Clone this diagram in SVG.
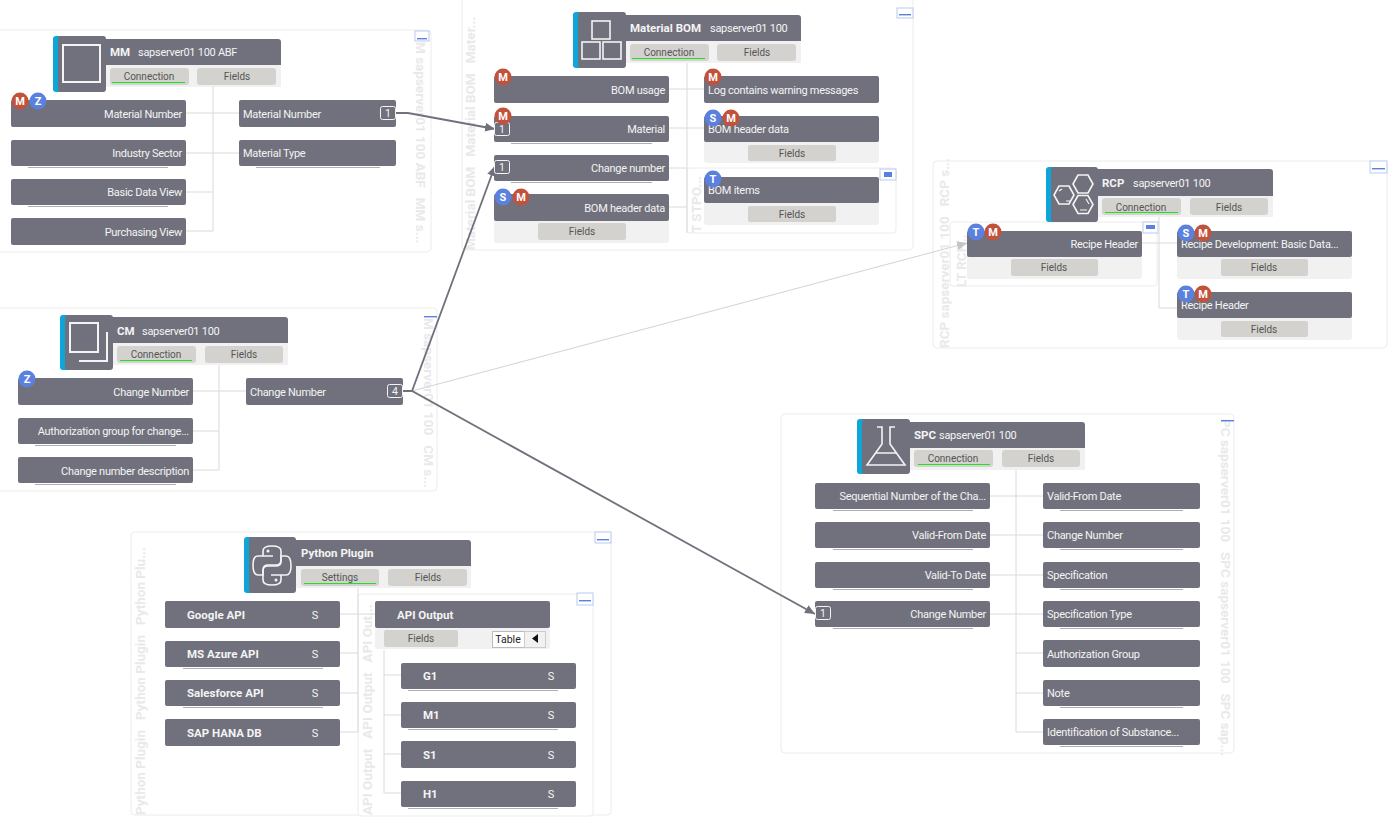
<svg xmlns="http://www.w3.org/2000/svg" width="1396" height="823" viewBox="0 0 1396 823">
<style>
text{font-family:Roboto,"Liberation Sans",sans-serif;font-size:11px;letter-spacing:-.28px}
.p{fill:#fff;stroke:#ececec;stroke-width:1}
.n{fill:#71717d}
.tool{fill:#f1f1f1}
.btn{fill:#d3d2ce}
.t{fill:#f4f4f4}
.e{fill:#f4f4f4;text-anchor:end}
.b{fill:#f4f4f4;font-weight:bold;font-size:11.5px;letter-spacing:0}
.bt{fill:#555;text-anchor:middle;font-size:10px;letter-spacing:0}
.s{fill:#f4f4f4;text-anchor:middle;letter-spacing:0}
.g{fill:#e9e9e9;font-weight:bold;font-size:13.5px;white-space:pre;letter-spacing:0}
.l{fill:none;stroke:#dadada;stroke-width:1}
.u{stroke:#8b8b96;stroke-width:.7;fill:none}
.bar{fill:#0ea5d8}
.on{stroke:#22e022;stroke-width:1.2}
.ic{fill:none;stroke:#f4f4f4;stroke-width:1.6}
.c{fill:none;stroke:#71717d;stroke-width:1.8}
.cf{fill:none;stroke:#d2d2d2;stroke-width:1}
.M{fill:#c2523c}.Z{fill:#5b80dd}
.bl{fill:#fff;font-weight:bold;font-size:11px;text-anchor:middle;letter-spacing:0}
.num{fill:none;stroke:#f4f4f4;stroke-width:1}
.ct{fill:#f4f4f4;text-anchor:middle;font-size:10.5px;letter-spacing:0}
.col{fill:#fff;stroke:#b9c9f2;stroke-width:1}
.cb{fill:#5b80dd}
</style>
<defs>
<marker id="arr" markerWidth="11" markerHeight="9" refX="10" refY="4.5" orient="auto" markerUnits="userSpaceOnUse"><path d="M0 0L10 4.5L0 9Z" fill="#71717d"/></marker>
<marker id="arrf" markerWidth="11" markerHeight="9" refX="10" refY="4.5" orient="auto" markerUnits="userSpaceOnUse"><path d="M0 0L10 4.5L0 9Z" fill="#c4c4c4"/></marker>
</defs>

<g id="panels">
<rect class="p" x="-6" y="30" width="437" height="222" rx="4"/>
<rect class="p" x="462" y="-10" width="451" height="260" rx="4"/>
<rect class="p" x="933" y="161" width="454" height="187" rx="4"/>
<rect class="p" x="-6" y="308" width="443" height="183" rx="4"/>
<rect class="p" x="131" y="532" width="480" height="283" rx="4"/>
<rect class="p" x="781" y="414" width="453" height="339" rx="4"/>
<rect class="p" x="687" y="168" width="209" height="65" rx="3"/>
<rect class="p" x="950" y="222" width="207" height="64" rx="3"/>
<rect class="p" x="358" y="594" width="235" height="222" rx="3"/>
<text class="g" transform="translate(416,42) rotate(90)">M sapserver01 100 ABF   MM s...</text>
<text class="g" transform="translate(475,250) rotate(-90)">Material BOM   Material BOM   Mater...</text>
<text class="g" transform="translate(701,233) rotate(-90)">T STPO...</text>
<text class="g" transform="translate(949,348) rotate(-90)">RCP sapserver01 100   RCP s...</text>
<text class="g" transform="translate(966,287) rotate(-90)">LT RCP...</text>
<text class="g" transform="translate(424,318) rotate(90)">M sapserver01 100   CM s...</text>
<text class="g" transform="translate(145,815) rotate(-90)">Python Plugin   Python Plugin   Python Plu...</text>
<text class="g" transform="translate(372,815) rotate(-90)">API Output   API Output   API Out...</text>
<text class="g" transform="translate(1221,419) rotate(90)">PC sapserver01 100   SPC sapserver01 100   SPC sap...</text>
<rect class="col" x="415" y="31" width="14" height="10"/><rect class="cb" x="417" y="38" width="10" height="1.4"/>
<rect class="col" x="897" y="8" width="16" height="10"/><rect class="cb" x="899" y="14" width="12" height="1.4"/>
<rect class="col" x="880" y="169" width="16" height="11"/><rect class="cb" x="884" y="172" width="8" height="5"/>
<rect class="col" x="1370" y="161" width="17" height="12"/><rect class="cb" x="1372" y="168" width="13" height="1.4"/>
<rect class="col" x="1143" y="222" width="15" height="11"/><rect class="cb" x="1146" y="225" width="9" height="4"/>
<rect class="cb" x="424" y="316" width="13" height="1.4"/>
<rect class="col" x="595" y="532" width="16" height="11"/><rect class="cb" x="597" y="539" width="12" height="1.4"/>
<rect class="col" x="577" y="593" width="16" height="12"/><rect class="cb" x="579" y="600" width="12" height="1.4"/>
<rect class="cb" x="1221" y="420" width="13" height="1.4"/>
</g>

<g id="connectors">
<path class="l" d="M213 87V231M186 113H239M186 153H239M186 192H213M186 231H213"/>
<path class="l" d="M687 63V233M669 89H704M669 128H704M669 168H687M669 207H687"/>
<path class="l" d="M1159 217V308M1142 243H1177M1159 308H1177"/>
<path class="l" d="M219 365V470M193 391H246M193 431H219M193 470H219"/>
<path class="l" d="M358 588V732M340 614H375M340 653H358M340 693H358M340 732H358"/>
<path class="l" d="M384 650V793M384 675H401M384 715H401M384 754H401M384 793H401"/>
<path class="l" d="M1016 470V732M990 496H1043M990 535H1043M990 575H1043M990 614H1043M1016 653H1043M1016 693H1043M1016 732H1043"/>
<path class="cf" d="M403 391H412L967 243" marker-end="url(#arrf)"/>
<path class="c" d="M396 113H408L495 129" marker-end="url(#arr)"/>
<path class="c" d="M403 391H412L495 166" marker-end="url(#arr)"/>
<path class="c" d="M403 391H412L815 614" marker-end="url(#arr)"/>
</g>

<g id="mm">
<rect class="bar" x="53" y="36" width="10" height="56" rx="3"/><rect class="n" x="58" y="36" width="48" height="56" rx="3"/>
<rect class="ic" x="63" y="45" width="37" height="37" style="stroke-width:2"/>
<path class="n" d="M104 39H278a3 3 0 0 1 3 3V65H104Z"/><rect class="tool" x="106" y="65" width="175" height="22"/>
<rect class="btn" x="110" y="68" width="79" height="17" rx="3"/><rect class="btn" x="197" y="68" width="79" height="17" rx="3"/>
<path class="on" d="M112 82.500H185"/>
<text class="b" x="110" y="56">MM</text><text class="t" x="138" y="56">sapserver01 100 ABF</text>
<text class="bt" x="149" y="80">Connection</text><text class="bt" x="237" y="80">Fields</text>
</g>
<g id="mm-material-number-l"><rect class="n" x="11" y="100" width="175" height="27" rx="2"/><text class="e" x="182" y="118">Material Number</text>
<circle class="M" cx="20" cy="101" r="8.500"/><text class="bl" x="20" y="105">M</text><circle class="Z" cx="38" cy="101" r="8.500"/><text class="bl" x="38" y="105">Z</text></g>
<g id="mm-industry"><path class="u" d="M28 167.500H168"/><rect class="n" x="11" y="140" width="175" height="26" rx="2"/><text class="e" x="182" y="157">Industry Sector</text></g>
<g id="mm-basic"><path class="u" d="M28 206.500H168"/><rect class="n" x="11" y="179" width="175" height="26" rx="2"/><text class="e" x="182" y="196">Basic Data View</text></g>
<g id="mm-purchasing"><rect class="n" x="11" y="218" width="175" height="27" rx="2"/><text class="e" x="182" y="236">Purchasing View</text></g>
<g id="mm-material-number-r"><rect class="n" x="239" y="100" width="157" height="27" rx="2"/><text class="t" x="243" y="118">Material Number</text><rect class="num" x="380.500" y="106.500" width="15" height="13" rx="2"/><text class="ct" x="388" y="117">1</text></g>
<g id="mm-material-type"><path class="u" d="M256 167.500H380"/><rect class="n" x="239" y="140" width="157" height="26" rx="2"/><text class="t" x="243" y="157">Material Type</text></g>

<g id="bom">
<rect class="bar" x="573" y="12" width="10" height="56" rx="3"/><rect class="n" x="578" y="12" width="48" height="56" rx="3"/>
<rect class="ic" x="592" y="21" width="18" height="18"/><rect class="ic" x="582" y="42" width="18" height="17"/><rect class="ic" x="603" y="42" width="18" height="17"/>
<path class="n" d="M624 15H798a3 3 0 0 1 3 3V41H624Z"/><rect class="tool" x="626" y="41" width="175" height="22"/>
<rect class="btn" x="630" y="44" width="79" height="17" rx="3"/><rect class="btn" x="717" y="44" width="79" height="17" rx="3"/>
<path class="on" d="M632 58.500H705"/>
<text class="b" x="630" y="32">Material BOM</text><text class="t" x="710" y="32">sapserver01 100</text>
<text class="bt" x="669" y="56">Connection</text><text class="bt" x="757" y="56">Fields</text>
</g>
<g id="bom-usage"><rect class="n" x="494" y="76" width="175" height="27" rx="2"/><text class="e" x="665" y="94">BOM usage</text><circle class="M" cx="503" cy="77" r="8.500"/><text class="bl" x="503" y="81">M</text></g>
<g id="bom-material"><path class="u" d="M511 143.500H652"/><rect class="n" x="494" y="116" width="175" height="26" rx="2"/><text class="e" x="665" y="133">Material</text><rect class="num" x="494.500" y="122.500" width="15" height="13" rx="2"/><text class="ct" x="502" y="133">1</text><circle class="M" cx="503" cy="116" r="8.500"/><text class="bl" x="503" y="120">M</text></g>
<g id="bom-change"><path class="u" d="M511 182.500H652"/><rect class="n" x="494" y="155" width="175" height="26" rx="2"/><text class="e" x="665" y="172">Change number</text><rect class="num" x="494.500" y="160.500" width="15" height="13" rx="2"/><text class="ct" x="502" y="171">1</text></g>
<g id="bom-header-l"><rect class="tool" x="494" y="200" width="175" height="43" rx="3"/><rect class="n" x="494" y="194" width="175" height="27" rx="2"/><rect class="btn" x="538" y="223" width="88" height="17" rx="2"/><text class="e" x="665" y="212">BOM header data</text><text class="bt" x="582" y="235">Fields</text><circle class="Z" cx="503" cy="197" r="8.500"/><text class="bl" x="503" y="201">S</text><circle class="M" cx="521" cy="197" r="8.500"/><text class="bl" x="521" y="201">M</text></g>
<g id="bom-log"><rect class="n" x="704" y="76" width="175" height="27" rx="2"/><text class="t" x="708" y="94">Log contains warning messages</text><circle class="M" cx="713" cy="77" r="8.500"/><text class="bl" x="713" y="81">M</text></g>
<g id="bom-header-r"><rect class="tool" x="704" y="122" width="175" height="41" rx="3"/><rect class="n" x="704" y="116" width="175" height="26" rx="2"/><rect class="btn" x="748" y="145" width="88" height="16" rx="2"/><text class="t" x="708" y="133">BOM header data</text><text class="bt" x="792" y="157">Fields</text><circle class="Z" cx="713" cy="118" r="8.500"/><text class="bl" x="713" y="122">S</text><circle class="M" cx="731" cy="118" r="8.500"/><text class="bl" x="731" y="122">M</text></g>
<g id="bom-items"><rect class="tool" x="704" y="183" width="175" height="42" rx="3"/><rect class="n" x="704" y="177" width="175" height="26" rx="2"/><rect class="btn" x="748" y="206" width="88" height="16" rx="2"/><text class="t" x="708" y="194">BOM items</text><text class="bt" x="792" y="218">Fields</text><circle class="Z" cx="713" cy="179" r="8.500"/><text class="bl" x="713" y="183">T</text></g>

<g id="rcp">
<rect class="bar" x="1046" y="167" width="10" height="55" rx="3"/><rect class="n" x="1051" y="167" width="47" height="55" rx="3"/>
<path class="ic" d="M1073 184L1078 175H1088L1093 184L1088 193H1078Z"/>
<path class="ic" d="M1054 195L1059 186H1069L1074 195L1069 204H1059Z"/>
<path class="ic" d="M1073 204.500L1078 195.500H1088L1093 204.500L1088 213.500H1078Z"/>
<path class="ic" d="M1059 191L1062 189M1066 201H1070M1080 210H1087M1089 204L1086 199" style="stroke-width:1.200"/>
<path class="n" d="M1096 169H1270a3 3 0 0 1 3 3V196H1096Z"/><rect class="tool" x="1098" y="196" width="175" height="21"/>
<rect class="btn" x="1102" y="198" width="79" height="17" rx="3"/><rect class="btn" x="1190" y="198" width="78" height="17" rx="3"/>
<path class="on" d="M1105 212.500H1178"/>
<text class="b" x="1102" y="187">RCP</text><text class="t" x="1133" y="187">sapserver01 100</text>
<text class="bt" x="1141" y="211">Connection</text><text class="bt" x="1229" y="211">Fields</text>
</g>
<g id="rcp-header-l"><rect class="tool" x="967" y="237" width="175" height="42" rx="3"/><rect class="n" x="967" y="231" width="175" height="26" rx="2"/><rect class="btn" x="1011" y="259" width="87" height="17" rx="2"/><text class="e" x="1138" y="248">Recipe Header</text><text class="bt" x="1054" y="271">Fields</text><circle class="Z" cx="976" cy="232" r="8.500"/><text class="bl" x="976" y="236">T</text><circle class="M" cx="993" cy="232" r="8.500"/><text class="bl" x="993" y="236">M</text></g>
<g id="rcp-dev"><rect class="tool" x="1177" y="237" width="175" height="42" rx="3"/><rect class="n" x="1177" y="231" width="175" height="26" rx="2"/><rect class="btn" x="1221" y="259" width="87" height="17" rx="2"/><text class="t" x="1181" y="248">Recipe Development: Basic Data...</text><text class="bt" x="1264" y="271">Fields</text><circle class="Z" cx="1186" cy="233" r="8.500"/><text class="bl" x="1186" y="237">S</text><circle class="M" cx="1203" cy="233" r="8.500"/><text class="bl" x="1203" y="237">M</text></g>
<g id="rcp-header-r"><rect class="tool" x="1177" y="298" width="175" height="42" rx="3"/><rect class="n" x="1177" y="292" width="175" height="26" rx="2"/><rect class="btn" x="1221" y="321" width="87" height="16" rx="2"/><text class="t" x="1181" y="309">Recipe Header</text><text class="bt" x="1264" y="333">Fields</text><circle class="Z" cx="1186" cy="294" r="8.500"/><text class="bl" x="1186" y="298">T</text><circle class="M" cx="1203" cy="294" r="8.500"/><text class="bl" x="1203" y="298">M</text></g>

<g id="cm">
<rect class="bar" x="60" y="315" width="10" height="55" rx="3"/><rect class="n" x="65" y="315" width="48" height="55" rx="3"/>
<rect class="ic" x="70" y="323" width="28" height="29" style="stroke-width:2"/><path class="ic" d="M79 361H107V332" style="stroke-width:2"/>
<path class="n" d="M111 317H285a3 3 0 0 1 3 3V343H111Z"/><rect class="tool" x="113" y="343" width="175" height="22"/>
<rect class="btn" x="117" y="346" width="79" height="17" rx="3"/><rect class="btn" x="205" y="346" width="78" height="17" rx="3"/>
<path class="on" d="M120 360.500H192"/>
<text class="b" x="117" y="335">CM</text><text class="t" x="142" y="335">sapserver01 100</text>
<text class="bt" x="156" y="358">Connection</text><text class="bt" x="244" y="358">Fields</text>
</g>
<g id="cm-change-l"><rect class="n" x="18" y="378" width="175" height="27" rx="2"/><text class="e" x="189" y="396">Change Number</text><circle class="Z" cx="27" cy="379" r="8.500"/><text class="bl" x="27" y="383">Z</text></g>
<g id="cm-auth"><path class="u" d="M35 445.500H176"/><rect class="n" x="18" y="418" width="175" height="26" rx="2"/><text class="e" x="189" y="435">Authorization group for change...</text></g>
<g id="cm-desc"><path class="u" d="M35 484.500H176"/><rect class="n" x="18" y="457" width="175" height="26" rx="2"/><text class="e" x="189" y="475">Change number description</text></g>
<g id="cm-change-r"><rect class="n" x="246" y="378" width="157" height="27" rx="2"/><text class="t" x="250" y="396">Change Number</text><rect class="num" x="387.500" y="384.500" width="15" height="13" rx="2"/><text class="ct" x="395" y="395">4</text></g>

<g id="python">
<rect class="bar" x="244" y="537" width="10" height="56" rx="3"/><rect class="n" x="249" y="537" width="47" height="56" rx="3"/>
<path class="ic" d="M281 556V551Q281 546 272 546Q263 546 263 551V556H273M263 556H258Q253 556 253 565Q253 575 258 575H263V570Q263 565 268 565H276Q281 565 281 560V556"/>
<path class="ic" d="M263 575V580Q263 585 272 585Q281 585 281 580V575H271M281 575H286Q291 575 291 566Q291 556 286 556H281V561Q281 566 276 566H268Q263 566 263 571V575"/>
<circle cx="268" cy="551" r="1.500" fill="#f4f4f4"/><circle cx="276" cy="580" r="1.500" fill="#f4f4f4"/>
<path class="n" d="M294 540H468a3 3 0 0 1 3 3V566H294Z"/><rect class="tool" x="296" y="566" width="175" height="22"/>
<rect class="btn" x="301" y="569" width="78" height="17" rx="3"/><rect class="btn" x="388" y="569" width="79" height="17" rx="3"/>
<path class="on" d="M304 583.500H376"/>
<text class="b" x="301" y="557">Python Plugin</text>
<text class="bt" x="340" y="581">Settings</text><text class="bt" x="428" y="581">Fields</text>
</g>
<g id="py-google"><rect class="n" x="165" y="601" width="175" height="27" rx="2"/><text class="b" x="187" y="619">Google API</text><text class="s" x="315" y="619">S</text></g>
<g id="py-azure"><path class="u" d="M183 668.500H323"/><rect class="n" x="165" y="641" width="175" height="26" rx="2"/><text class="b" x="187" y="658">MS Azure API</text><text class="s" x="315" y="658">S</text></g>
<g id="py-salesforce"><path class="u" d="M183 707.500H323"/><rect class="n" x="165" y="680" width="175" height="26" rx="2"/><text class="b" x="187" y="697">Salesforce API</text><text class="s" x="315" y="697">S</text></g>
<g id="py-hana"><rect class="n" x="165" y="719" width="175" height="27" rx="2"/><text class="b" x="187" y="737">SAP HANA DB</text><text class="s" x="315" y="737">S</text></g>
<g id="api-output"><rect class="tool" x="375" y="628" width="175" height="21" rx="3"/><rect class="n" x="375" y="601" width="175" height="27" rx="2"/><rect class="btn" x="384" y="630" width="74" height="17" rx="2"/><text class="b" x="397" y="619">API Output</text><text class="bt" x="421" y="642">Fields</text>
<rect x="492.500" y="631.500" width="32" height="16" fill="#fff" stroke="#bbb"/><rect x="524.500" y="631.500" width="21" height="16" fill="#f1f1f1" stroke="#ccc"/><text x="508" y="643" text-anchor="middle" fill="#222" style="font-size:10.500px;letter-spacing:0">Table</text><path d="M538 634V643L532 638.500Z" fill="#111"/></g>
<g id="api-g1"><path class="u" d="M408 690.500H558"/><rect class="n" x="401" y="663" width="175" height="26" rx="2"/><text class="b" x="423" y="680">G1</text><text class="s" x="551" y="680">S</text></g>
<g id="api-m1"><path class="u" d="M408 729.500H558"/><rect class="n" x="401" y="702" width="175" height="26" rx="2"/><text class="b" x="423" y="719">M1</text><text class="s" x="551" y="719">S</text></g>
<g id="api-s1"><rect class="n" x="401" y="741" width="175" height="27" rx="2"/><text class="b" x="423" y="759">S1</text><text class="s" x="551" y="759">S</text></g>
<g id="api-h1"><path class="u" d="M408 808.500H558"/><rect class="n" x="401" y="781" width="175" height="26" rx="2"/><text class="b" x="423" y="798">H1</text><text class="s" x="551" y="798">S</text></g>

<g id="spc">
<rect class="bar" x="857" y="419" width="10" height="55" rx="3"/><rect class="n" x="862" y="419" width="48" height="55" rx="3"/>
<path class="ic" d="M877 427H882V444L867 465H905L890 444V427H895M876 453H896"/>
<path class="n" d="M908 422H1082a3 3 0 0 1 3 3V448H908Z"/><rect class="tool" x="910" y="448" width="175" height="22"/>
<rect class="btn" x="914" y="450" width="79" height="17" rx="3"/><rect class="btn" x="1002" y="450" width="78" height="17" rx="3"/>
<path class="on" d="M918 464.500H990"/>
<text class="b" x="914" y="439">SPC</text><text class="t" x="939" y="439">sapserver01 100</text>
<text class="bt" x="953" y="462">Connection</text><text class="bt" x="1041" y="462">Fields</text>
</g>
<g id="spc-l1"><path class="u" d="M833 510.500H973"/><rect class="n" x="815" y="483" width="175" height="26" rx="2"/><text class="e" x="986" y="500">Sequential Number of the Cha...</text></g>
<g id="spc-l2"><path class="u" d="M833 549.500H973"/><rect class="n" x="815" y="522" width="175" height="26" rx="2"/><text class="e" x="986" y="539">Valid-From Date</text></g>
<g id="spc-l3"><path class="u" d="M833 589.500H973"/><rect class="n" x="815" y="562" width="175" height="26" rx="2"/><text class="e" x="986" y="579">Valid-To Date</text></g>
<g id="spc-l4"><path class="u" d="M833 628.500H973"/><rect class="n" x="815" y="601" width="175" height="26" rx="2"/><text class="e" x="986" y="618">Change Number</text><rect class="num" x="815.500" y="606.500" width="15" height="13" rx="2"/><text class="ct" x="823" y="617">1</text></g>
<g id="spc-r1"><path class="u" d="M1060 510.500H1183"/><rect class="n" x="1043" y="483" width="157" height="26" rx="2"/><text class="t" x="1047" y="500">Valid-From Date</text></g>
<g id="spc-r2"><path class="u" d="M1060 549.500H1183"/><rect class="n" x="1043" y="522" width="157" height="26" rx="2"/><text class="t" x="1047" y="539">Change Number</text></g>
<g id="spc-r3"><path class="u" d="M1060 589.500H1183"/><rect class="n" x="1043" y="562" width="157" height="26" rx="2"/><text class="t" x="1047" y="579">Specification</text></g>
<g id="spc-r4"><path class="u" d="M1060 628.500H1183"/><rect class="n" x="1043" y="601" width="157" height="26" rx="2"/><text class="t" x="1047" y="618">Specification Type</text></g>
<g id="spc-r5"><rect class="n" x="1043" y="640" width="157" height="27" rx="2"/><text class="t" x="1047" y="658">Authorization Group</text></g>
<g id="spc-r6"><path class="u" d="M1060 707.500H1183"/><rect class="n" x="1043" y="680" width="157" height="26" rx="2"/><text class="t" x="1047" y="697">Note</text></g>
<g id="spc-r7"><path class="u" d="M1060 746.500H1183"/><rect class="n" x="1043" y="719" width="157" height="26" rx="2"/><text class="t" x="1047" y="736">Identification of Substance...</text></g>
</svg>
